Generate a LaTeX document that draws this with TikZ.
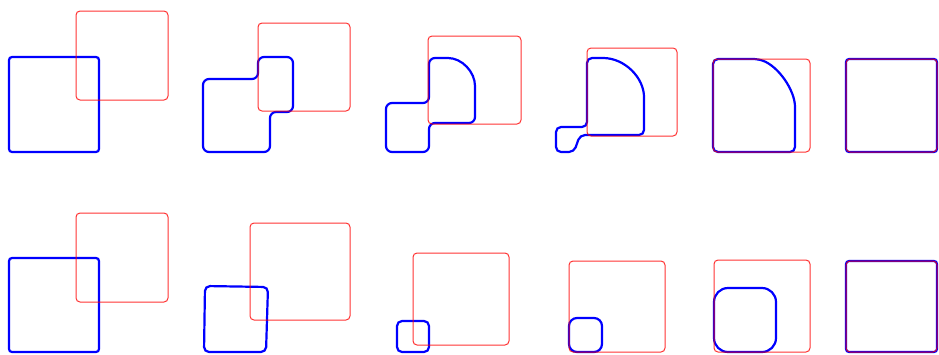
\documentclass[tikz,border=0pt]{standalone}
\begin{document}
\begin{tikzpicture}[x=1pt,y=-1pt,
  blueline/.style={blue,line width=2.2pt,rounded corners=3pt},
  redbox/.style={red,line width=1pt,rounded corners=4pt,opacity=.8}]
\useasboundingbox (0,0) rectangle (939,354);

% top row
% start
\draw[blueline] (9,57) rectangle (99,152);
\draw[redbox] (76,11) rectangle (168,100);

% step 1
\draw[blueline,rounded corners=6pt] (203,152)--(203,79)--(258,79)--(258,57)--(293,57)--(293,112)--(270,112)--(270,152)--cycle;
\draw[redbox] (258,23) rectangle (350,111);

% step 2
\draw[blueline,rounded corners=6pt] (386,152)--(386,103)--(429,103)--(429,58)--(442,58)
  .. controls (462,58) and (475,72) .. (475,92)--(475,123)--(429,123)--(429,152)--cycle;
\draw[redbox] (428,36) rectangle (521,124);

% step 3
\draw[blueline,rounded corners=5pt] (556,152)--(556,127)--(587,127)--(587,58)--(598,58)
  .. controls (625,58) and (644,78) .. (644,102)--(644,135)--(580,135)--(574,152)--cycle;
\draw[redbox] (587,48) rectangle (677,136);

% step 4
\draw[blueline,rounded corners=5pt] (713,152)--(713,59)--(758,59)
  .. controls (778,66) and (795,90) .. (795,112)--(795,152)--cycle;
\draw[redbox] (713,59) rectangle (810,152);

% end
\draw[blueline] (846,59) rectangle (937,152);
\draw[redbox] (846,59) rectangle (937,152);

% bottom row
% start
\draw[blueline] (9,258) rectangle (99,352);
\draw[redbox] (76,213) rectangle (168,302);

% step 1
\draw[blueline,rounded corners=5pt] (204,352)--(205,286)--(268,287)--(266,352)--cycle;
\draw[redbox] (250,223) rectangle (350,320);

% step 2
\draw[blueline,rounded corners=5pt] (397,321) rectangle (429,352);
\draw[redbox] (413,253) rectangle (509,345);

% step 3
\draw[blueline,rounded corners=8pt] (569,318) rectangle (602,352);
\draw[redbox] (569,261) rectangle (665,352);

% step 4
\draw[blueline,rounded corners=14pt] (714,288) rectangle (776,352);
\draw[redbox] (714,260) rectangle (810,352);

% end
\draw[blueline] (846,261) rectangle (937,352);
\draw[redbox] (846,261) rectangle (937,352);
\end{tikzpicture}
\end{document}
